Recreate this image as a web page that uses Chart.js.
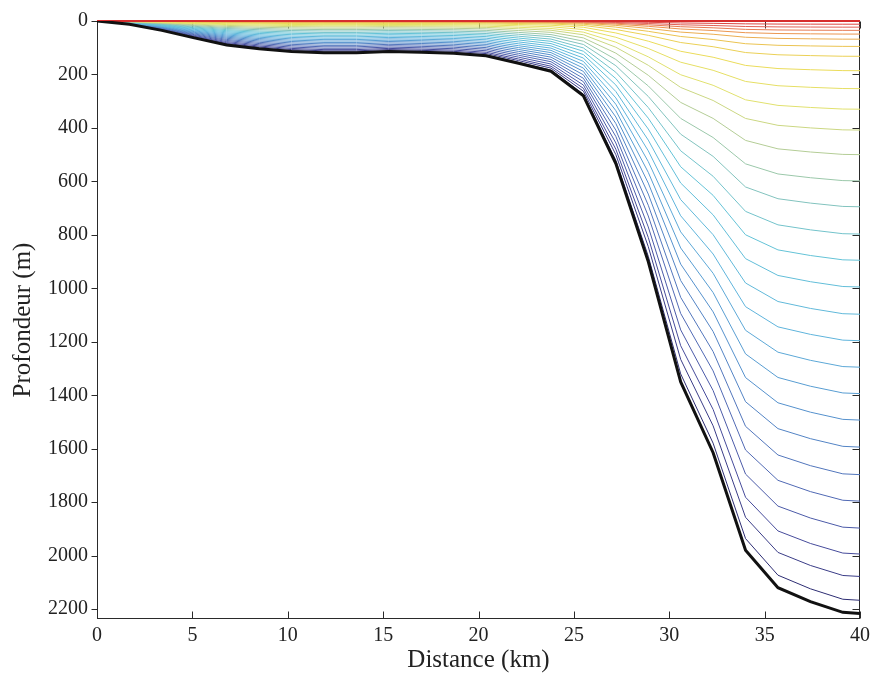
<!DOCTYPE html>
<html>
<head>
<meta charset="utf-8">
<script src="https://cdn.jsdelivr.net/npm/chart.js@4.4.1/dist/chart.umd.min.js"></script>
<style>
  html, body { margin: 0; padding: 0; background: #fff; }
</style>
</head>
<body>
<canvas id="chart" width="875" height="673"></canvas>
<script>
// grid nodes along the section (km)
const distKm = [0, 1.7, 3.4, 5.1, 6.8, 8.5, 10.2, 11.9, 13.6, 15.3, 17.0, 18.7, 20.4,
                22.1, 23.8, 25.5, 27.2, 28.9, 30.6, 32.3, 34.0, 35.7, 37.4, 39.1, 40.0];
// bottom depth at each node (m), thick black line
const bottomDepth = [0, 12, 35, 63, 90, 104, 114, 119, 119, 114, 117, 121, 130,
                     158, 188, 280, 533, 900, 1350, 1615, 1980, 2120, 2172, 2212, 2216];
// terrain-following levels: share of the local depth, read at the 40 km end (surface first)
const levelFraction = [0, 0.0054, 0.0104, 0.0158, 0.0221, 0.0307, 0.0429, 0.0596, 0.0839,
                       0.1142, 0.1489, 0.1841, 0.2256, 0.2699, 0.3136, 0.3597, 0.4039,
                       0.449, 0.495, 0.5397, 0.5844, 0.629, 0.6737, 0.7193, 0.7658,
                       0.8105, 0.856, 0.8998, 0.9377, 0.9779];
const xTicks = [0, 5, 10, 15, 20, 25, 30, 35, 40];
const yTicks = [0, 200, 400, 600, 800, 1000, 1200, 1400, 1600, 1800, 2000, 2200];

const serif = "'Liberation Serif', 'Times New Roman', serif";

// colour stops by level index, surface red down to navy (a washed jet)
const colourStops = [
    [0, [215, 45, 45]], [2, [225, 95, 85]], [4, [235, 150, 80]], [6, [235, 195, 80]],
    [8, [235, 220, 90]], [10, [225, 225, 110]], [12, [180, 205, 150]], [14, [130, 195, 190]],
    [16, [100, 195, 215]], [19, [95, 180, 220]], [22, [85, 145, 205]], [25, [80, 105, 180]],
    [27, [70, 75, 155]], [29, [45, 45, 115]]
];
function levelColour(k) {
    for (let i = 0; i < colourStops.length - 1; i++) {
        const [k0, c0] = colourStops[i], [k1, c1] = colourStops[i + 1];
        if (k >= k0 && k <= k1) {
            const w = (k - k0) / (k1 - k0);
            const c = c0.map((v, j) => Math.round(v + w * (c1[j] - v)));
            return `rgb(${c[0]}, ${c[1]}, ${c[2]})`;
        }
    }
    return 'rgb(45, 45, 115)';
}

const datasets = [];
datasets.push({
    label: 'fond',
    data: distKm.map((x, i) => ({ x: x, y: bottomDepth[i] })),
    borderColor: '#111',
    borderWidth: 3,
    order: 0
});
levelFraction.forEach((f, k) => {
    datasets.push({
        label: 'niveau ' + k,
        data: distKm.map((x, i) => ({ x: x, y: f * bottomDepth[i] })),
        borderColor: levelColour(k),
        borderWidth: k === 0 ? 2 : 1,
        clip: k === 0 ? false : undefined,
        order: k + 1
    });
});

// box with ticks, drawn under the lines
const frame = {
    id: 'frame',
    beforeDatasetsDraw(chart) {
        const { ctx, chartArea: a, scales: { x, y } } = chart;
        const l = Math.round(a.left) + 0.5, r = Math.round(a.right) - 0.5;
        const t = Math.round(a.top) + 0.5, b = Math.round(a.bottom) - 0.5;
        ctx.save();
        ctx.strokeStyle = '#2a2a2a';
        ctx.lineWidth = 1;
        ctx.strokeRect(l, t, r - l, b - t);
        ctx.beginPath();
        xTicks.forEach(v => {
            const px = Math.round(x.getPixelForValue(v)) + 0.5;
            ctx.moveTo(px, b); ctx.lineTo(px, b - 7);
            ctx.moveTo(px, t); ctx.lineTo(px, t + 7);
        });
        yTicks.forEach(v => {
            const py = Math.round(y.getPixelForValue(v)) + 0.5;
            ctx.moveTo(l, py); ctx.lineTo(l - 6, py);
            ctx.moveTo(r, py); ctx.lineTo(r - 7, py);
        });
        ctx.stroke();
        ctx.restore();
    }
};

new Chart(document.getElementById('chart'), {
    type: 'line',
    data: { datasets: datasets },
    options: {
        responsive: false,
        animation: false,
        layout: { padding: { top: 16, right: 13, left: 0, bottom: 0 } },
        plugins: { legend: { display: false }, tooltip: { enabled: false } },
        elements: { point: { radius: 0 }, line: { tension: 0 } },
        scales: {
            x: {
                type: 'linear',
                min: 0,
                max: 40,
                afterBuildTicks: s => { s.ticks = xTicks.map(v => ({ value: v })); },
                afterFit: s => { s.height = 54; },
                grid: { display: false, drawTicks: false },
                border: { display: false },
                ticks: { font: { family: serif, size: 20 }, color: '#222', padding: 5, maxRotation: 0,
                         callback: v => String(v) },
                title: {
                    display: true,
                    text: 'Distance (km)',
                    font: { family: serif, size: 25, lineHeight: 1.0 },
                    color: '#222',
                    padding: { top: 0, bottom: 0 }
                }
            },
            y: {
                type: 'linear',
                reverse: true,
                min: 0,
                max: 2237,
                afterBuildTicks: s => { s.ticks = yTicks.map(v => ({ value: v })); },
                afterFit: s => { s.width = 97; },
                grid: { display: false, drawTicks: false },
                border: { display: false },
                ticks: { font: { family: serif, size: 20 }, color: '#222', padding: 9,
                         callback: v => String(v) },
                title: {
                    display: true,
                    text: 'Profondeur (m)',
                    font: { family: serif, size: 25, lineHeight: 1.2 },
                    color: '#222',
                    padding: { top: 8, bottom: 0 }
                }
            }
        }
    },
    plugins: [frame]
});
</script>
</body>
</html>
